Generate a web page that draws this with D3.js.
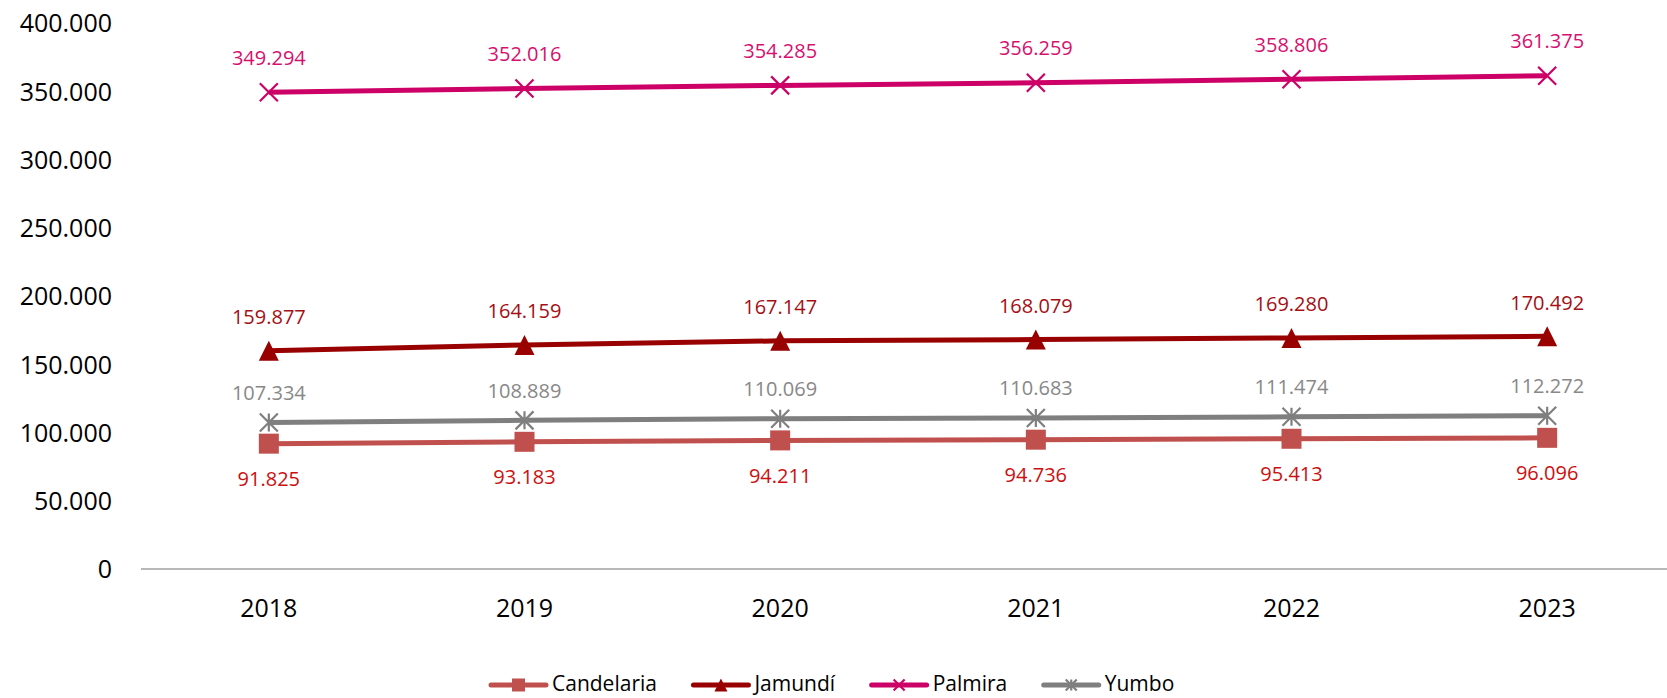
<!DOCTYPE html>
<html>
<head>
<meta charset="utf-8">
<script src="https://cdn.jsdelivr.net/npm/d3@7"></script>
<style>
  html, body { margin: 0; padding: 0; background: #fff; }
  svg { display: block; }
  text { font-family: "Open Sans", "Noto Sans", sans-serif; }
</style>
</head>
<body>
<svg id="chart" width="1667" height="698"></svg>
<script>
// ---- data ----
const years = ["2018", "2019", "2020", "2021", "2022", "2023"];
const candelaria = [91825, 93183, 94211, 94736, 95413, 96096];
const jamundi = [159877, 164159, 167147, 168079, 169280, 170492];
const palmira = [349294, 352016, 354285, 356259, 358806, 361375];
const yumbo = [107334, 108889, 110069, 110683, 111474, 112272];
const seriesNames = ["Candelaria", "Jamundí", "Palmira", "Yumbo"];
const yTicks = [0, 50000, 100000, 150000, 200000, 250000, 300000, 350000, 400000];

// ---- styles ----
const styles = {
  "Candelaria": { line: "#C0504D", label: "#CC1010", marker: "square", dy: 35 },
  "Jamundí":    { line: "#990000", label: "#A50F15", marker: "triangle", dy: -34 },
  "Palmira":    { line: "#CC0066", label: "#D6106F", marker: "x", dy: -35 },
  "Yumbo":      { line: "#7F7F7F", label: "#888888", marker: "star", dy: -30 }
};
const seriesValues = [candelaria, jamundi, palmira, yumbo];
const series = seriesNames.map((n, i) => ({ name: n, values: seriesValues[i], style: styles[n] }));

const locale = d3.formatLocale({ decimal: ",", thousands: ".", grouping: [3], currency: ["$", ""] });
const fmt = locale.format(",d");

const svg = d3.select("#chart");
const x = d3.scaleBand().domain(years).range([141, 1675]);
const y = d3.scaleLinear().domain([0, 400000]).range([569, 23]);

// y axis labels
const yAxis = d3.axisLeft(y).tickValues(yTicks).tickFormat(fmt).tickSize(0).tickPadding(0);
const gy = svg.append("g").attr("transform", "translate(112,0)").call(yAxis);
gy.select(".domain").remove();
gy.selectAll("text").attr("font-size", 25).attr("fill", "#000")
  .attr("font-family", "'Open Sans', sans-serif").attr("dy", "0.35em");

// x axis
const xAxis = d3.axisBottom(x).tickSize(0).tickPadding(0);
const gx = svg.append("g").attr("transform", "translate(0,569)").call(xAxis);
gx.select(".domain").remove();
gx.selectAll("text").attr("font-size", 25).attr("fill", "#000")
  .attr("font-family", "'Open Sans', sans-serif").attr("y", 39).attr("dy", "0.35em");
svg.append("line").attr("x1", 141).attr("x2", 1667).attr("y1", y(0)).attr("y2", y(0))
  .attr("stroke", "#A0A0A0").attr("stroke-width", 1.5);

function drawMarker(g, type, color, s) {
  const h = s / 2;
  if (type === "square") {
    g.append("rect").attr("x", -h).attr("y", -h).attr("width", s).attr("height", s).attr("fill", color);
  } else if (type === "triangle") {
    g.append("path").attr("d", `M0,${-h}L${h},${h}L${-h},${h}Z`).attr("fill", color);
  } else if (type === "x") {
    g.append("path").attr("d", `M${-h},${-h}L${h},${h}M${-h},${h}L${h},${-h}`)
      .attr("stroke", color).attr("stroke-width", 2.2).attr("fill", "none");
  } else if (type === "star") {
    g.append("path").attr("d", `M${-h},${-h}L${h},${h}M${-h},${h}L${h},${-h}M0,${-h}L0,${h}`)
      .attr("stroke", color).attr("stroke-width", 2.2).attr("fill", "none");
  }
}

const line = d3.line().x((d, i) => x(years[i]) + x.bandwidth() / 2).y(d => y(d));

series.forEach(s => {
  const g = svg.append("g");
  g.append("path").datum(s.values).attr("d", line).attr("fill", "none")
    .attr("stroke", s.style.line).attr("stroke-width", 5).attr("stroke-linejoin", "round");
  s.values.forEach((v, i) => {
    const cx = x(years[i]) + x.bandwidth() / 2, cy = y(v);
    const mg = g.append("g").attr("transform", `translate(${cx},${cy})`);
    const size = s.style.marker === "x" || s.style.marker === "star" ? 18 : 20;
    drawMarker(mg, s.style.marker, s.style.line, size);
    g.append("text").attr("x", cx).attr("y", cy + s.style.dy).attr("text-anchor", "middle")
      .attr("dominant-baseline", "central").attr("font-size", 20).attr("fill", s.style.label)
      .text(fmt(v));
  });
});

// legend
const legend = svg.append("g");
let lx = 491;
const ly = 685;
series.forEach(s => {
  const g = legend.append("g");
  g.append("line").attr("x1", lx).attr("x2", lx + 55).attr("y1", ly).attr("y2", ly)
    .attr("stroke", s.style.line).attr("stroke-width", 5).attr("stroke-linecap", "round");
  const mg = g.append("g").attr("transform", `translate(${lx + 27.5},${ly})`);
  drawMarker(mg, s.style.marker, s.style.line, s.style.marker === "x" || s.style.marker === "star" ? 11 : 13);
  const t = g.append("text").attr("x", lx + 61).attr("y", 691)
    .attr("font-size", 21).attr("fill", "#000").text(s.name);
  lx = lx + 61 + t.node().getComputedTextLength() + 36.5;
});
</script>
</body>
</html>
